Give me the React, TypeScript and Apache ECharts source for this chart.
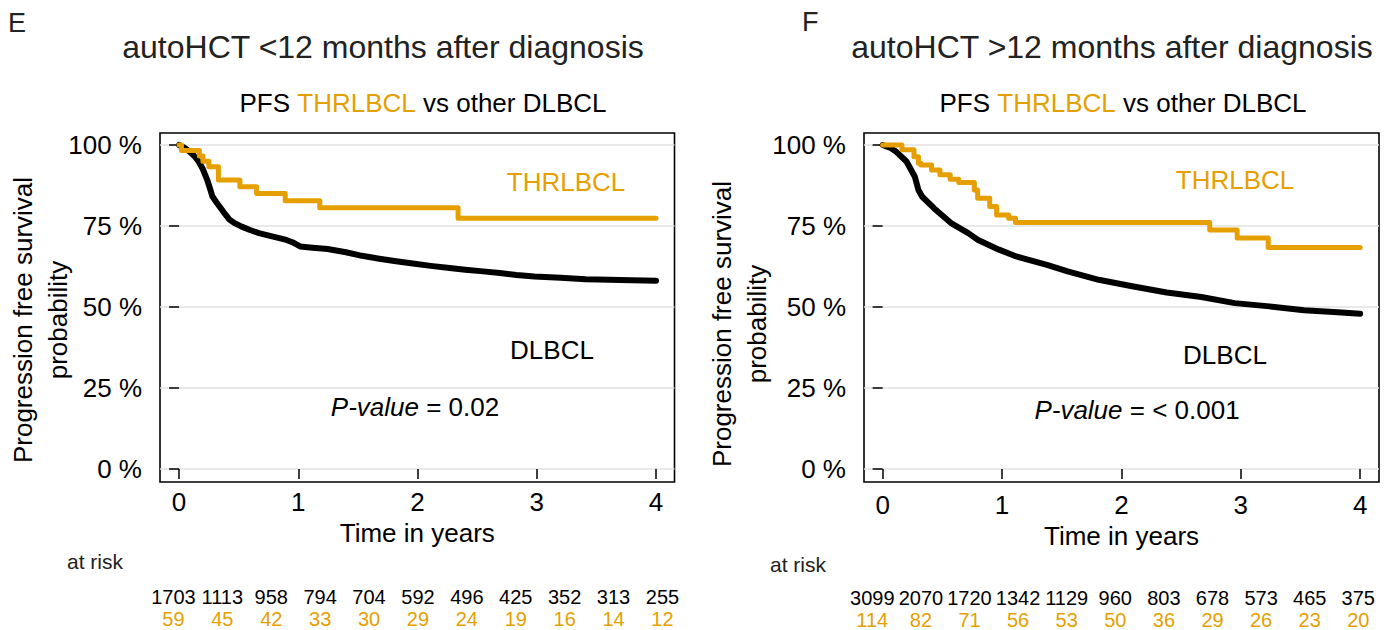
import React, { useEffect, useRef } from "react";
import * as echarts from "echarts";

// ---------- data ----------
const xTicks = [0, 1, 2, 3, 4];
const yTicks = [0, 25, 50, 75, 100];

// Kaplan-Meier PFS, [years, %]
const leftThrlbcl: number[][] = [
  [0, 100], [0.02, 98.3], [0.17, 96.6], [0.2, 95.0], [0.25, 93.3], [0.33, 89.2],
  [0.51, 87.1], [0.65, 85.0], [0.89, 82.8], [1.18, 80.6], [2.34, 77.4], [4.0, 77.4],
];
const leftDlbcl: number[][] = [
  [0, 100], [0.05, 99.0], [0.09, 97.9], [0.13, 96.5], [0.164, 94.9], [0.2, 92.5],
  [0.236, 89.2], [0.26, 86.5], [0.28, 84.1], [0.31, 82.5], [0.35, 80.5], [0.39, 78.5],
  [0.424, 76.9], [0.47, 75.8], [0.525, 74.8], [0.6, 73.7], [0.67, 72.8], [0.78, 71.8],
  [0.9, 70.7], [0.95, 70.0], [1.015, 68.7], [1.12, 68.3], [1.246, 67.9], [1.4, 66.9],
  [1.534, 65.8], [1.68, 64.9], [1.82, 64.1], [1.96, 63.4], [2.11, 62.7], [2.25, 62.1],
  [2.4, 61.5], [2.55, 61.0], [2.69, 60.5], [2.83, 59.9], [2.98, 59.4], [3.2, 59.0],
  [3.41, 58.6], [3.7, 58.3], [4.0, 58.1],
];
const rightThrlbcl: number[][] = [
  [0, 100], [0.162, 98.5], [0.263, 96.4], [0.3, 94.4], [0.32, 93.8], [0.41, 92.3],
  [0.48, 90.8], [0.566, 89.4], [0.638, 88.4], [0.768, 86.1], [0.796, 83.6], [0.897, 81.0],
  [0.955, 78.4], [1.056, 77.4], [1.113, 76.1], [2.74, 73.8], [2.97, 71.3], [3.23, 68.4],
  [4.0, 68.4],
];
const rightDlbcl: number[][] = [
  [0, 100], [0.06, 99.2], [0.115, 97.9], [0.2, 94.9], [0.27, 90.2], [0.3, 86.1],
  [0.33, 84.1], [0.43, 80.5], [0.573, 75.9], [0.717, 72.8], [0.8, 70.7], [0.975, 67.7],
  [1.12, 65.6], [1.376, 63.0], [1.55, 61.0], [1.81, 58.4], [2.09, 56.4], [2.38, 54.5],
  [2.67, 53.1], [2.95, 51.2], [3.24, 50.2], [3.53, 49.0], [3.81, 48.4], [4.0, 47.9],
];

// numbers at risk
const riskColumns = [0, 1, 2, 3, 4, 5, 6, 7, 8, 9, 10];
const leftRiskDlbcl = [1703, 1113, 958, 794, 704, 592, 496, 425, 352, 313, 255];
const leftRiskThrlbcl = [59, 45, 42, 33, 30, 29, 24, 19, 16, 14, 12];
const rightRiskDlbcl = [3099, 2070, 1720, 1342, 1129, 960, 803, 678, 573, 465, 375];
const rightRiskThrlbcl = [114, 82, 71, 56, 53, 50, 36, 29, 26, 23, 20];

// ---------- style ----------
const ORANGE = "#E69F00";
const FONT = "Liberation Sans, Arial, Helvetica, sans-serif";

function plotXAxis(gridIndex: number, min: number, max: number, labelMargin: number, nameGap: number) {
  return {
    type: "value",
    gridIndex,
    min,
    max,
    name: "Time in years",
    nameLocation: "middle",
    nameGap,
    nameTextStyle: { fontSize: 26, color: "#000", fontFamily: FONT },
    axisLine: { show: false },
    axisTick: { show: true, length: 10, customValues: xTicks, lineStyle: { color: "#000", width: 1.5 } },
    axisLabel: { customValues: xTicks, fontSize: 26, color: "#000", fontFamily: FONT, margin: labelMargin },
    splitLine: { show: false },
  };
}

function plotYAxis(gridIndex: number) {
  return {
    type: "value",
    gridIndex,
    min: -4,
    max: 103.7,
    axisLine: { show: false },
    axisTick: { show: true, length: 10, customValues: yTicks, lineStyle: { color: "#000", width: 1.5 } },
    axisLabel: {
      customValues: yTicks,
      fontSize: 26,
      color: "#000",
      fontFamily: FONT,
      margin: 18,
      formatter: (v: number) => v + " %",
    },
    splitLine: { show: true, lineStyle: { color: "#e2e2e2", width: 1.5 } },
  };
}

function tableAxes(gridIndex: number) {
  return {
    x: { type: "value", gridIndex, min: -0.5, max: 10.5, show: false },
    y: { type: "value", gridIndex, min: -0.5, max: 1.5, show: false },
  };
}

function kmSeries(axis: number, data: number[][], color: string, width: number, step: boolean, z: number) {
  return {
    type: "line",
    xAxisIndex: axis,
    yAxisIndex: axis,
    data,
    step: step ? "end" : false,
    showSymbol: false,
    symbol: "none",
    silent: true,
    z,
    lineStyle: { color, width, cap: "round", join: "round" },
  };
}

function riskSeries(axis: number, row: number, values: number[], color: string) {
  return {
    type: "scatter",
    xAxisIndex: axis,
    yAxisIndex: axis,
    data: riskColumns.map((c, i) => [c, row, values[i]]),
    symbolSize: 1,
    itemStyle: { color: "rgba(0,0,0,0)" },
    silent: true,
    clip: false,
    labelLayout: { hideOverlap: false },
    label: {
      show: true,
      position: "inside",
      formatter: (p: any) => String(p.value[2]),
      fontSize: 20,
      color,
      opacity: 1,
      textBorderWidth: 0,
      textShadowBlur: 0,
      fontFamily: FONT,
    },
  };
}

function txt(text: string, x: number, y: number, fontSize: number, fill = "#000", align = "center", extra: any = {}) {
  return {
    type: "text",
    x,
    y,
    silent: true,
    style: { text, fontSize, fill, fontFamily: FONT, textAlign: align, textVerticalAlign: "middle", ...extra },
  };
}

function richTitle(x: number, y: number) {
  return {
    type: "text",
    x,
    y,
    silent: true,
    style: {
      text: "{k|PFS }{o|THRLBCL}{k| vs other DLBCL}",
      textAlign: "center",
      textVerticalAlign: "middle",
      fontFamily: FONT,
      fontSize: 26,
      rich: {
        k: { fontSize: 26, fill: "#000", fontFamily: FONT },
        o: { fontSize: 26, fill: ORANGE, fontFamily: FONT },
      },
    },
  };
}

function pValue(x: number, y: number, value: string) {
  return {
    type: "text",
    x,
    y,
    silent: true,
    style: {
      text: "{i|P-value}{n| = " + value + "}",
      textAlign: "center",
      textVerticalAlign: "middle",
      fontFamily: FONT,
      fontSize: 26,
      rich: {
        i: { fontSize: 26, fontStyle: "italic", fill: "#000", fontFamily: FONT },
        n: { fontSize: 26, fill: "#000", fontFamily: FONT },
      },
    },
  };
}

function yTitle(x: number, y: number) {
  return {
    type: "text",
    x,
    y,
    rotation: Math.PI / 2,
    silent: true,
    style: {
      text: "Progression free survival\nprobability",
      fontSize: 26,
      lineHeight: 35,
      fill: "#000",
      fontFamily: FONT,
      textAlign: "center",
      textVerticalAlign: "middle",
    },
  };
}

export default function App() {
  const ref = useRef<HTMLDivElement>(null);

  useEffect(() => {
    if (!ref.current) return;
    const chart = echarts.init(ref.current, null, { renderer: "svg" });
    const tL = tableAxes(2);
    const tR = tableAxes(3);
    const gridBase = { show: true, borderColor: "#000", borderWidth: 1.6, backgroundColor: "transparent", containLabel: false, outerBoundsMode: "none" };
    const option: any = {
      animation: false,
      backgroundColor: "#fff",
      grid: [
        { ...gridBase, left: 160, top: 133, width: 514.5, height: 349 },
        { ...gridBase, left: 864, top: 133, width: 515, height: 349 },
        { left: 149, top: 586, width: 537.9, height: 44, show: false, outerBoundsMode: "none" },
        { left: 848, top: 587, width: 534.6, height: 44, show: false, outerBoundsMode: "none" },
      ],
      xAxis: [
        plotXAxis(0, -0.16, 4.155, 7, 37),
        plotXAxis(1, -0.156, 4.158, 10, 41),
        tL.x,
        tR.x,
      ],
      yAxis: [plotYAxis(0), plotYAxis(1), tL.y, tR.y],
      series: [
        kmSeries(0, leftDlbcl, "#000", 6, false, 2),
        kmSeries(0, leftThrlbcl, ORANGE, 5, true, 3),
        kmSeries(1, rightDlbcl, "#000", 6, false, 2),
        kmSeries(1, rightThrlbcl, ORANGE, 5, true, 3),
        riskSeries(2, 1, leftRiskDlbcl, "#000"),
        riskSeries(2, 0, leftRiskThrlbcl, ORANGE),
        riskSeries(3, 1, rightRiskDlbcl, "#000"),
        riskSeries(3, 0, rightRiskThrlbcl, ORANGE),
      ],
      graphic: [
        txt("E", 8, 23, 27, "#222", "left"),
        txt("F", 802, 22, 27, "#222", "left"),
        txt("autoHCT <12 months after diagnosis", 383, 47, 32, "#222"),
        txt("autoHCT >12 months after diagnosis", 1112, 47, 32, "#222"),
        richTitle(423, 103),
        richTitle(1123, 103),
        yTitle(40, 320),
        yTitle(739, 324),
        txt("THRLBCL", 566, 182, 26, ORANGE),
        txt("THRLBCL", 1235, 180, 26, ORANGE),
        txt("DLBCL", 552, 350, 26),
        txt("DLBCL", 1225, 355, 26),
        pValue(415, 407, "0.02"),
        pValue(1137, 410, "< 0.001"),
        txt("at risk", 95, 561, 21, "#222"),
        txt("at risk", 798, 564, 21, "#222"),
      ],
    };
    chart.setOption(option);
    return () => chart.dispose();
  }, []);

  return (
    <div
      ref={ref}
      style={{ position: "absolute", left: 0, top: 0, width: 1397, height: 630 }}
    />
  );
}
